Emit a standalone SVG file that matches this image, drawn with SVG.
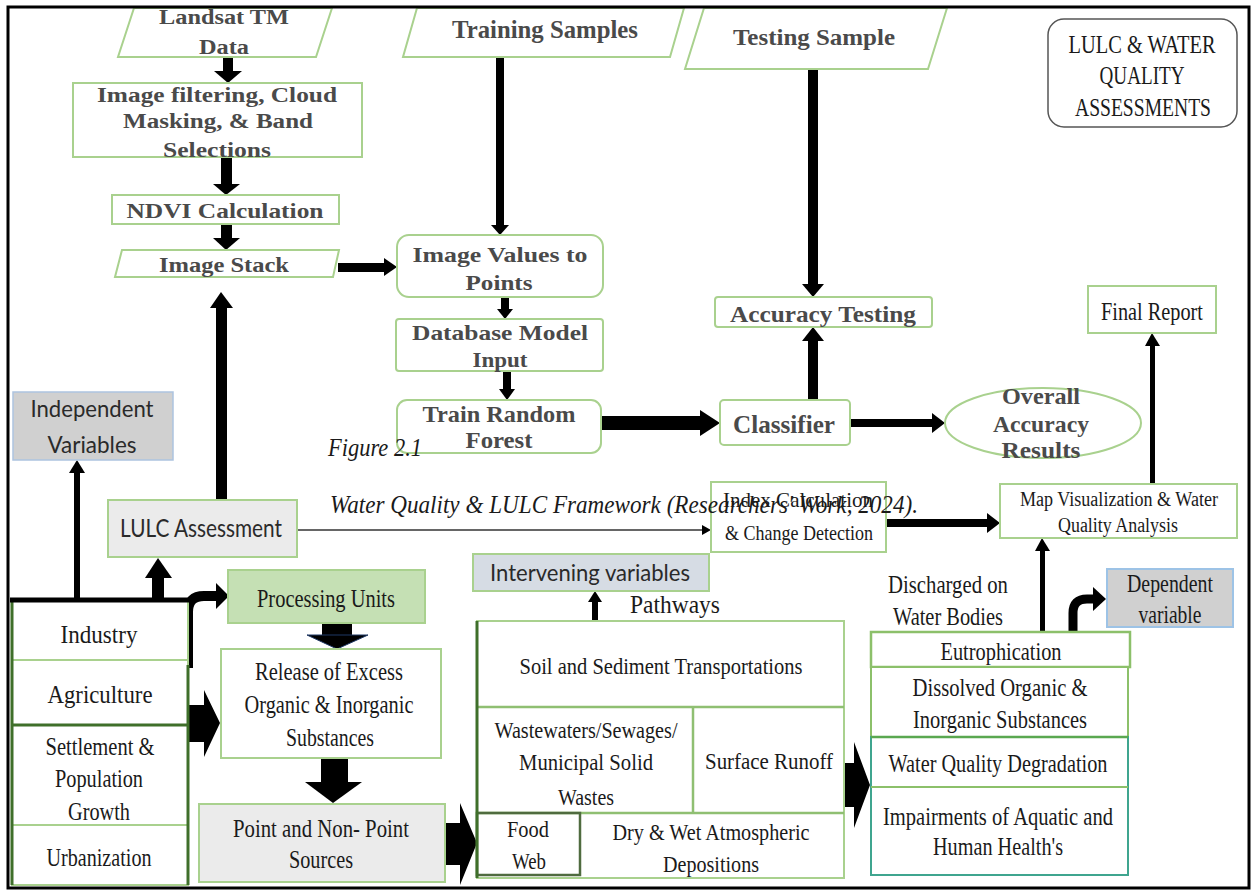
<svg xmlns="http://www.w3.org/2000/svg" width="1254" height="891" viewBox="0 0 1254 891">
<style>
.g{fill:#fff;stroke:#a9d18e;stroke-width:2}
.dk{fill:none;stroke:#3f6f2a;stroke-width:3}
.b{font-family:"Liberation Serif",serif;font-weight:bold;fill:#4a4a4a;text-anchor:middle}
.r{font-family:"Liberation Serif",serif;fill:#1a1a1a;text-anchor:middle}
.s{font-family:Lato,"Liberation Sans",sans-serif;fill:#2a2a2a;text-anchor:middle}
.i{font-family:"Liberation Serif",serif;font-style:italic;fill:#1a1a1a}
.a{fill:#000}
</style>
<rect width="1254" height="891" fill="#fff"/>

<g id="connectors">
<rect class="a" x="223" y="57" width="10" height="16"/><polygon class="a" points="214,71 242,71 228,83"/>
<rect class="a" x="221" y="157" width="11" height="29"/><polygon class="a" points="213,184 240,184 226,195"/>
<rect class="a" x="221" y="224" width="11" height="16"/><polygon class="a" points="213,238 240,238 226,250"/>
<rect class="a" x="338" y="263" width="48" height="9"/><polygon class="a" points="384,258 397,267 384,276"/>
<rect class="a" x="496" y="58" width="8" height="169"/><polygon class="a" points="491,225 509,225 500,235"/>
<rect class="a" x="501" y="297" width="8" height="13"/><polygon class="a" points="497,309 513,309 505,319"/>
<rect class="a" x="503" y="371" width="8" height="20"/><polygon class="a" points="499,389 515,389 507,400"/>
<rect class="a" x="808" y="69" width="10" height="217"/><polygon class="a" points="802,284 824,284 813,297"/>
<rect class="a" x="808" y="339" width="10" height="61"/><polygon class="a" points="802,341 824,341 813,327"/>
<rect class="a" x="601" y="416" width="101" height="14"/><polygon class="a" points="700,410 720,423 700,436"/>
<rect class="a" x="850" y="419" width="84" height="8"/><polygon class="a" points="932,413 945,423 932,433"/>
<rect class="a" x="216" y="305" width="11" height="195"/><polygon class="a" points="210,308 233,308 221,292"/>
<rect class="a" x="886" y="519" width="103" height="8"/><polygon class="a" points="987,513 1000,523 987,533"/>
<rect class="a" x="1150" y="343" width="5" height="141"/><polygon class="a" points="1145,346 1160,346 1152,333"/>
<rect class="a" x="1040" y="548" width="5" height="84"/><polygon class="a" points="1035,551 1050,551 1042,538"/>
<rect class="a" x="74" y="470" width="6" height="128"/><polygon class="a" points="69,473 85,473 77,460"/>
<rect class="a" x="152" y="575" width="12" height="25"/><polygon class="a" points="145,578 172,578 158,558"/>
<line x1="297" y1="530" x2="704" y2="530" stroke="#333" stroke-width="1.6"/><polygon class="a" points="702,525 711,530 702,535"/>
<path d="M188,668 V612 Q188,596 204,596 H218" fill="none" stroke="#000" stroke-width="10"/>
<polygon class="a" points="216,583 229,596 216,609"/>
<rect class="a" x="322" y="622" width="30" height="14"/><polygon points="307,635 368,635 337,649" fill="#000" stroke="#1f3864" stroke-width="1"/>
<polygon class="a" points="188,705 204,705 204,690 220,723 204,757 204,742 188,742"/>
<rect class="a" x="321" y="758" width="27" height="25"/><polygon class="a" points="305,782 362,782 333,803"/>
<polygon class="a" points="446,823 460,823 460,803 477,843 460,885 460,865 446,865"/>
<polygon class="a" points="840,763 854,763 854,742 870,785 854,828 854,807 840,807"/>
<rect class="a" x="592" y="600" width="6" height="21"/><polygon class="a" points="588,602 602,602 595,591"/>
<path d="M1073,632 V613 Q1073,599 1087,599 H1095" fill="none" stroke="#000" stroke-width="9"/>
<polygon class="a" points="1093,587 1106,599 1093,611"/>
</g>

<g id="landsat"><polygon class="g" points="118,57 316,57 332,8 134,8"/>
<text class="b" x="224" y="24" font-size="20" textLength="130" lengthAdjust="spacingAndGlyphs">Landsat TM</text>
<text class="b" x="224" y="54" font-size="20" textLength="50" lengthAdjust="spacingAndGlyphs">Data</text></g>

<g id="filtering"><rect class="g" x="73" y="83" width="289" height="74"/>
<text class="b" x="217" y="102" font-size="20" textLength="240" lengthAdjust="spacingAndGlyphs">Image filtering, Cloud</text>
<text class="b" x="218" y="128" font-size="20" textLength="190" lengthAdjust="spacingAndGlyphs">Masking, &amp; Band</text>
<text class="b" x="217" y="157" font-size="20" textLength="108" lengthAdjust="spacingAndGlyphs">Selections</text></g>

<g id="ndvi"><rect class="g" x="112" y="195" width="227" height="29"/>
<text class="b" x="225" y="218" font-size="21" textLength="197" lengthAdjust="spacingAndGlyphs">NDVI Calculation</text></g>

<g id="stack"><polygon class="g" points="115,277 333,277 339,250 122,250"/>
<text class="b" x="224" y="272" font-size="20" textLength="130" lengthAdjust="spacingAndGlyphs">Image Stack</text></g>

<g id="training"><polygon class="g" points="403,57 670,57 684,8 417,8"/>
<text class="b" x="545" y="38" font-size="25" textLength="186" lengthAdjust="spacingAndGlyphs">Training Samples</text></g>

<g id="testing"><polygon class="g" points="685,69 928,69 947,8 704,8"/>
<text class="b" x="814" y="45" font-size="24" textLength="162" lengthAdjust="spacingAndGlyphs">Testing Sample</text></g>

<g id="imagevalues"><rect class="g" x="397" y="235" width="206" height="62" rx="12"/>
<text class="b" x="500" y="262" font-size="22" textLength="175" lengthAdjust="spacingAndGlyphs">Image Values to</text>
<text class="b" x="499" y="290" font-size="22" textLength="67" lengthAdjust="spacingAndGlyphs">Points</text></g>

<g id="database"><rect class="g" x="396" y="319" width="207" height="52" rx="3"/>
<text class="b" x="500" y="340" font-size="22" textLength="176" lengthAdjust="spacingAndGlyphs">Database Model</text>
<text class="b" x="500" y="367" font-size="22" textLength="55" lengthAdjust="spacingAndGlyphs">Input</text></g>

<g id="train"><rect class="g" x="397" y="400" width="204" height="53" rx="10"/>
<text class="b" x="499" y="422" font-size="23" textLength="153" lengthAdjust="spacingAndGlyphs">Train Random</text>
<text class="b" x="499" y="448" font-size="23" textLength="67" lengthAdjust="spacingAndGlyphs">Forest</text></g>

<g id="accuracy"><rect class="g" x="715" y="297" width="217" height="30" rx="3"/>
<text class="b" x="823" y="322" font-size="24" textLength="186" lengthAdjust="spacingAndGlyphs">Accuracy Testing</text></g>

<g id="classifier"><rect class="g" x="720" y="400" width="130" height="45" rx="4"/>
<text class="b" x="784" y="433" font-size="25" textLength="102" lengthAdjust="spacingAndGlyphs">Classifier</text></g>

<g id="overall"><ellipse class="g" cx="1043" cy="423" rx="98" ry="35"/>
<text class="b" x="1041" y="404" font-size="24" textLength="78" lengthAdjust="spacingAndGlyphs">Overall</text>
<text class="b" x="1041" y="432" font-size="24" textLength="96" lengthAdjust="spacingAndGlyphs">Accuracy</text>
<text class="b" x="1041" y="458" font-size="24" textLength="79" lengthAdjust="spacingAndGlyphs">Results</text></g>

<g id="title"><rect x="1048" y="19" width="189" height="108" rx="16" fill="#fff" stroke="#555" stroke-width="1.5"/>
<text class="r" x="1142" y="53" font-size="25" textLength="147" lengthAdjust="spacingAndGlyphs">LULC &amp; WATER</text>
<text class="r" x="1142" y="84" font-size="25" textLength="85" lengthAdjust="spacingAndGlyphs">QUALITY</text>
<text class="r" x="1143" y="116" font-size="25" textLength="136" lengthAdjust="spacingAndGlyphs">ASSESSMENTS</text></g>

<g id="finalreport"><rect class="g" x="1088" y="286" width="128" height="47"/>
<text class="r" x="1152" y="320" font-size="25" textLength="102" lengthAdjust="spacingAndGlyphs">Final Report</text></g>

<g id="mapviz"><rect class="g" x="1000" y="484" width="237" height="54"/>
<text class="r" x="1119" y="506" font-size="20" textLength="198" lengthAdjust="spacingAndGlyphs">Map Visualization &amp; Water</text>
<text class="r" x="1118" y="532" font-size="20" textLength="120" lengthAdjust="spacingAndGlyphs">Quality Analysis</text></g>

<g id="indexcalc"><rect class="g" x="711" y="482" width="175" height="70"/>
<text class="r" x="798" y="507" font-size="21" textLength="150" lengthAdjust="spacingAndGlyphs">Index Calculation</text>
<text class="r" x="799" y="540" font-size="21" textLength="148" lengthAdjust="spacingAndGlyphs">&amp; Change Detection</text></g>

<g id="caption">
<text class="i" x="328" y="456" font-size="26" textLength="94" lengthAdjust="spacingAndGlyphs">Figure 2.1</text>
<text class="i" x="330" y="513" font-size="26" textLength="588" lengthAdjust="spacingAndGlyphs">Water Quality &amp; LULC Framework (Researchers' Work, 2024).</text>
</g>

<g id="independent"><rect x="13" y="392" width="160" height="68" fill="#d0d0d0" stroke="#adc4e0" stroke-width="1.5"/>
<text class="s" x="92" y="417" font-size="24" textLength="123" lengthAdjust="spacingAndGlyphs">Independent</text>
<text class="s" x="92" y="453" font-size="24" textLength="89" lengthAdjust="spacingAndGlyphs">Variables</text></g>

<g id="lulcassessment"><rect x="108" y="500" width="189" height="57" fill="#ebebeb" stroke="#a9d18e" stroke-width="2"/>
<text class="s" x="201" y="537" font-size="25" textLength="162" lengthAdjust="spacingAndGlyphs">LULC Assessment</text></g>

<g id="sources-group">
<rect class="g" x="12" y="600" width="176" height="60"/>
<rect class="g" x="12" y="660" width="176" height="65"/>
<rect class="g" x="12" y="725" width="176" height="100"/>
<rect class="g" x="12" y="825" width="176" height="60"/>
<line class="dk" x1="12" y1="598" x2="12" y2="885"/>
<line class="dk" x1="12" y1="725" x2="188" y2="725"/>
<line class="dk" x1="188" y1="665" x2="188" y2="885"/>
<line x1="10" y1="600" x2="190" y2="600" stroke="#000" stroke-width="5"/>
<text class="r" x="99" y="643" font-size="26" textLength="77" lengthAdjust="spacingAndGlyphs">Industry</text>
<text class="r" x="100" y="703" font-size="26" textLength="105" lengthAdjust="spacingAndGlyphs">Agriculture</text>
<text class="r" x="100" y="755" font-size="25" textLength="109" lengthAdjust="spacingAndGlyphs">Settlement &amp;</text>
<text class="r" x="99" y="787" font-size="25" textLength="88" lengthAdjust="spacingAndGlyphs">Population</text>
<text class="r" x="99" y="820" font-size="25" textLength="62" lengthAdjust="spacingAndGlyphs">Growth</text>
<text class="r" x="99" y="866" font-size="25" textLength="105" lengthAdjust="spacingAndGlyphs">Urbanization</text>
</g>

<g id="processing"><rect x="228" y="570" width="197" height="53" fill="#c5e0b4" stroke="#a9d18e" stroke-width="2"/>
<text class="r" x="326" y="607" font-size="25" textLength="138" lengthAdjust="spacingAndGlyphs">Processing Units</text></g>

<g id="release"><rect class="g" x="221" y="649" width="220" height="109"/>
<text class="r" x="329" y="680" font-size="25" textLength="148" lengthAdjust="spacingAndGlyphs">Release of Excess</text>
<text class="r" x="329" y="713" font-size="25" textLength="169" lengthAdjust="spacingAndGlyphs">Organic &amp; Inorganic</text>
<text class="r" x="330" y="746" font-size="25" textLength="88" lengthAdjust="spacingAndGlyphs">Substances</text></g>

<g id="pointsources"><rect x="199" y="804" width="246" height="78" fill="#ebebeb" stroke="#a9d18e" stroke-width="2"/>
<text class="r" x="321" y="837" font-size="25" textLength="176" lengthAdjust="spacingAndGlyphs">Point and Non- Point</text>
<text class="r" x="321" y="868" font-size="25" textLength="64" lengthAdjust="spacingAndGlyphs">Sources</text></g>

<g id="intervening"><rect x="473" y="554" width="236" height="37" fill="#d6dce4" stroke="#a9d18e" stroke-width="2"/>
<text class="s" x="590" y="581" font-size="24" textLength="200" lengthAdjust="spacingAndGlyphs">Intervening variables</text></g>

<g id="pathways">
<text class="r" x="675" y="613" font-size="25" textLength="90" lengthAdjust="spacingAndGlyphs">Pathways</text>
<rect class="g" x="477" y="621" width="367" height="257"/>
<line x1="477" y1="707" x2="844" y2="707" stroke="#8fbf72" stroke-width="2.5"/>
<line x1="693" y1="707" x2="693" y2="813" stroke="#8fbf72" stroke-width="2.5"/>
<line x1="477" y1="813" x2="844" y2="813" stroke="#8fbf72" stroke-width="2.5"/>
<rect x="477" y="813" width="103" height="62" fill="none" stroke="#4f6b3f" stroke-width="2.5"/>
<line class="dk" x1="477" y1="621" x2="477" y2="878"/>
<text class="r" x="661" y="674" font-size="24" textLength="283" lengthAdjust="spacingAndGlyphs">Soil and Sediment  Transportations</text>
<text class="r" x="586" y="738" font-size="24" textLength="183" lengthAdjust="spacingAndGlyphs">Wastewaters/Sewages/</text>
<text class="r" x="586" y="770" font-size="24" textLength="134" lengthAdjust="spacingAndGlyphs">Municipal  Solid</text>
<text class="r" x="586" y="805" font-size="24" textLength="56" lengthAdjust="spacingAndGlyphs">Wastes</text>
<text class="r" x="769" y="769" font-size="24" textLength="128" lengthAdjust="spacingAndGlyphs">Surface Runoff</text>
<text class="r" x="528" y="837" font-size="24" textLength="42" lengthAdjust="spacingAndGlyphs">Food</text>
<text class="r" x="529" y="869" font-size="24" textLength="34" lengthAdjust="spacingAndGlyphs">Web</text>
<text class="r" x="711" y="840" font-size="24" textLength="197" lengthAdjust="spacingAndGlyphs">Dry &amp; Wet Atmospheric</text>
<text class="r" x="711" y="872" font-size="24" textLength="96" lengthAdjust="spacingAndGlyphs">Depositions</text>
</g>

<g id="discharged">
<text class="r" x="948" y="593" font-size="25" textLength="120" lengthAdjust="spacingAndGlyphs">Discharged  on</text>
<text class="r" x="948" y="625" font-size="25" textLength="110" lengthAdjust="spacingAndGlyphs">Water Bodies</text>
</g>

<g id="dependent"><rect x="1107" y="569" width="126" height="58" fill="#d0d0d0" stroke="#9dc3e6" stroke-width="2"/>
<text class="r" x="1170" y="592" font-size="25" textLength="86" lengthAdjust="spacingAndGlyphs">Dependent</text>
<text class="r" x="1170" y="623" font-size="25" textLength="63" lengthAdjust="spacingAndGlyphs">variable</text></g>

<g id="effects">
<rect x="871" y="632" width="259" height="35" fill="#fff" stroke="#8cc06a" stroke-width="2.5"/>
<rect x="871" y="667" width="257" height="70" fill="#fff" stroke="#8cc06a" stroke-width="2"/>
<rect x="871" y="737" width="257" height="138" fill="#fff" stroke="#3fa58f" stroke-width="2"/>
<line x1="871" y1="787" x2="1128" y2="787" stroke="#8cc06a" stroke-width="2"/>
<line x1="871" y1="737" x2="1128" y2="737" stroke="#5aa850" stroke-width="2.5"/>
<text class="r" x="1001" y="660" font-size="25" textLength="121" lengthAdjust="spacingAndGlyphs">Eutrophication</text>
<text class="r" x="1000" y="696" font-size="25" textLength="175" lengthAdjust="spacingAndGlyphs">Dissolved Organic &amp;</text>
<text class="r" x="1000" y="728" font-size="25" textLength="174" lengthAdjust="spacingAndGlyphs">Inorganic  Substances</text>
<text class="r" x="998" y="772" font-size="25" textLength="219" lengthAdjust="spacingAndGlyphs">Water Quality Degradation</text>
<text class="r" x="998" y="825" font-size="25" textLength="230" lengthAdjust="spacingAndGlyphs">Impairments  of Aquatic and</text>
<text class="r" x="998" y="855" font-size="25" textLength="130" lengthAdjust="spacingAndGlyphs">Human Health's</text>
</g>

<rect x="8" y="7" width="1241" height="881" fill="none" stroke="#000" stroke-width="3"/>
</svg>
